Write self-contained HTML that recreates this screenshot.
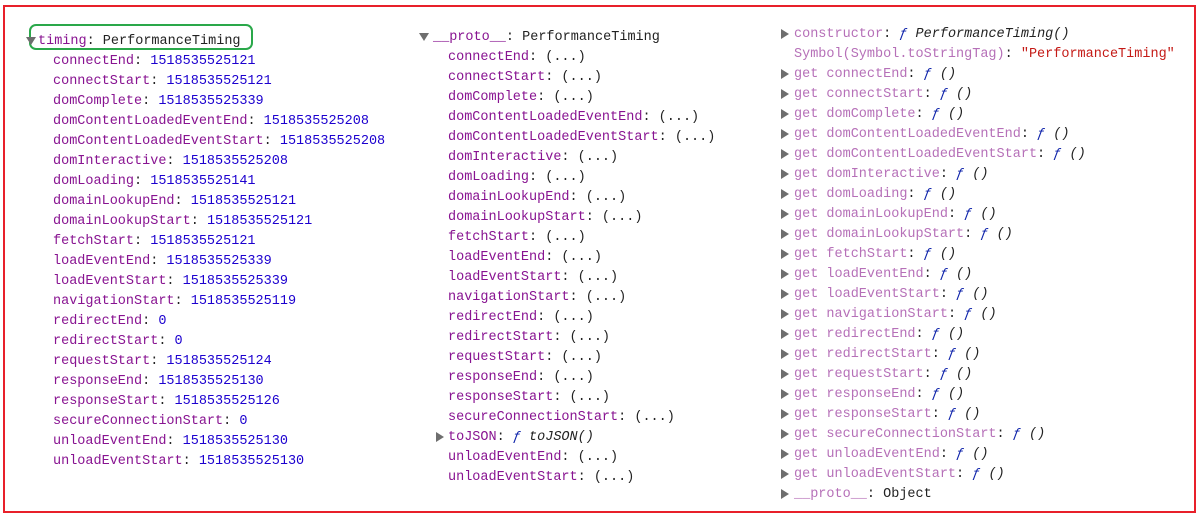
<!DOCTYPE html>
<html><head><style>
body{margin:0;width:1199px;height:515px;background:#fff;position:relative;overflow:hidden;font-family:"Liberation Mono",monospace;font-size:13.5px;}
.frame{position:absolute;left:3px;top:5px;width:1189px;height:504px;border:2px solid #e8202a;}
.l{position:absolute;white-space:pre;line-height:20px;height:20px;color:#222;}
.k{color:#881391}.p{color:#b670b8}.n{color:#1c00cf}.f{color:#0d22aa;font-style:italic}.i{font-style:italic}.s{color:#c41a16}
.t{position:absolute;width:0;height:0;border-left:8px solid #6e6e6e;border-top:5px solid transparent;border-bottom:5px solid transparent;}
.d{position:absolute;width:0;height:0;border-top:8px solid #6e6e6e;border-left:5px solid transparent;border-right:5px solid transparent;}
.g{position:absolute;left:29px;top:24px;width:220px;height:22px;border:2px solid #2aa84a;border-radius:7px;}
</style></head><body>
<div class="frame"></div>
<div class="g"></div>
<script>
function add(x,y,h){var d=document.createElement('div');d.className='l';d.style.left=x+'px';d.style.top=(y-7.5)+'px';d.innerHTML=h;document.body.appendChild(d);}
function tri(c,x,y){var d=document.createElement('div');d.className=c;d.style.left=x+'px';d.style.top=(y-(c=='t'?3:2))+'px';document.body.appendChild(d);}
var c1=[["connectEnd","1518535525121"],["connectStart","1518535525121"],["domComplete","1518535525339"],["domContentLoadedEventEnd","1518535525208"],["domContentLoadedEventStart","1518535525208"],["domInteractive","1518535525208"],["domLoading","1518535525141"],["domainLookupEnd","1518535525121"],["domainLookupStart","1518535525121"],["fetchStart","1518535525121"],["loadEventEnd","1518535525339"],["loadEventStart","1518535525339"],["navigationStart","1518535525119"],["redirectEnd","0"],["redirectStart","0"],["requestStart","1518535525124"],["responseEnd","1518535525130"],["responseStart","1518535525126"],["secureConnectionStart","0"],["unloadEventEnd","1518535525130"],["unloadEventStart","1518535525130"]];
tri('d',26,39);add(38,39,'<span class="k">timing</span>: PerformanceTiming');
c1.forEach(function(r,i){add(53,59+i*20,'<span class="k">'+r[0]+'</span>: <span class="n">'+r[1]+'</span>');});
var c2=["connectEnd","connectStart","domComplete","domContentLoadedEventEnd","domContentLoadedEventStart","domInteractive","domLoading","domainLookupEnd","domainLookupStart","fetchStart","loadEventEnd","loadEventStart","navigationStart","redirectEnd","redirectStart","requestStart","responseEnd","responseStart","secureConnectionStart","TOJSON","unloadEventEnd","unloadEventStart"];
tri('d',419,35);add(433,35,'<span class="k">__proto__</span>: PerformanceTiming');
c2.forEach(function(k,i){var y=55+i*20;if(k=="TOJSON"){tri('t',436,y);add(448,y,'<span class="k">toJSON</span>: <span class="f">ƒ</span> <span class="i">toJSON()</span>');}else add(448,y,'<span class="k">'+k+'</span>: (...)');});
tri('t',781,32);add(794,32,'<span class="p">constructor</span>: <span class="f">ƒ</span> <span class="i">PerformanceTiming()</span>');
add(794,52,'<span class="p">Symbol(Symbol.toStringTag)</span>: <span class="s">"PerformanceTiming"</span>');
c2.filter(function(k){return k!="TOJSON"}).forEach(function(k,i){var y=72+i*20;tri('t',781,y);add(794,y,'<span class="p">get '+k+'</span>: <span class="f">ƒ</span> <span class="i">()</span>');});
tri('t',781,492);add(794,492,'<span class="p">__proto__</span>: Object');
</script>
</body></html>
